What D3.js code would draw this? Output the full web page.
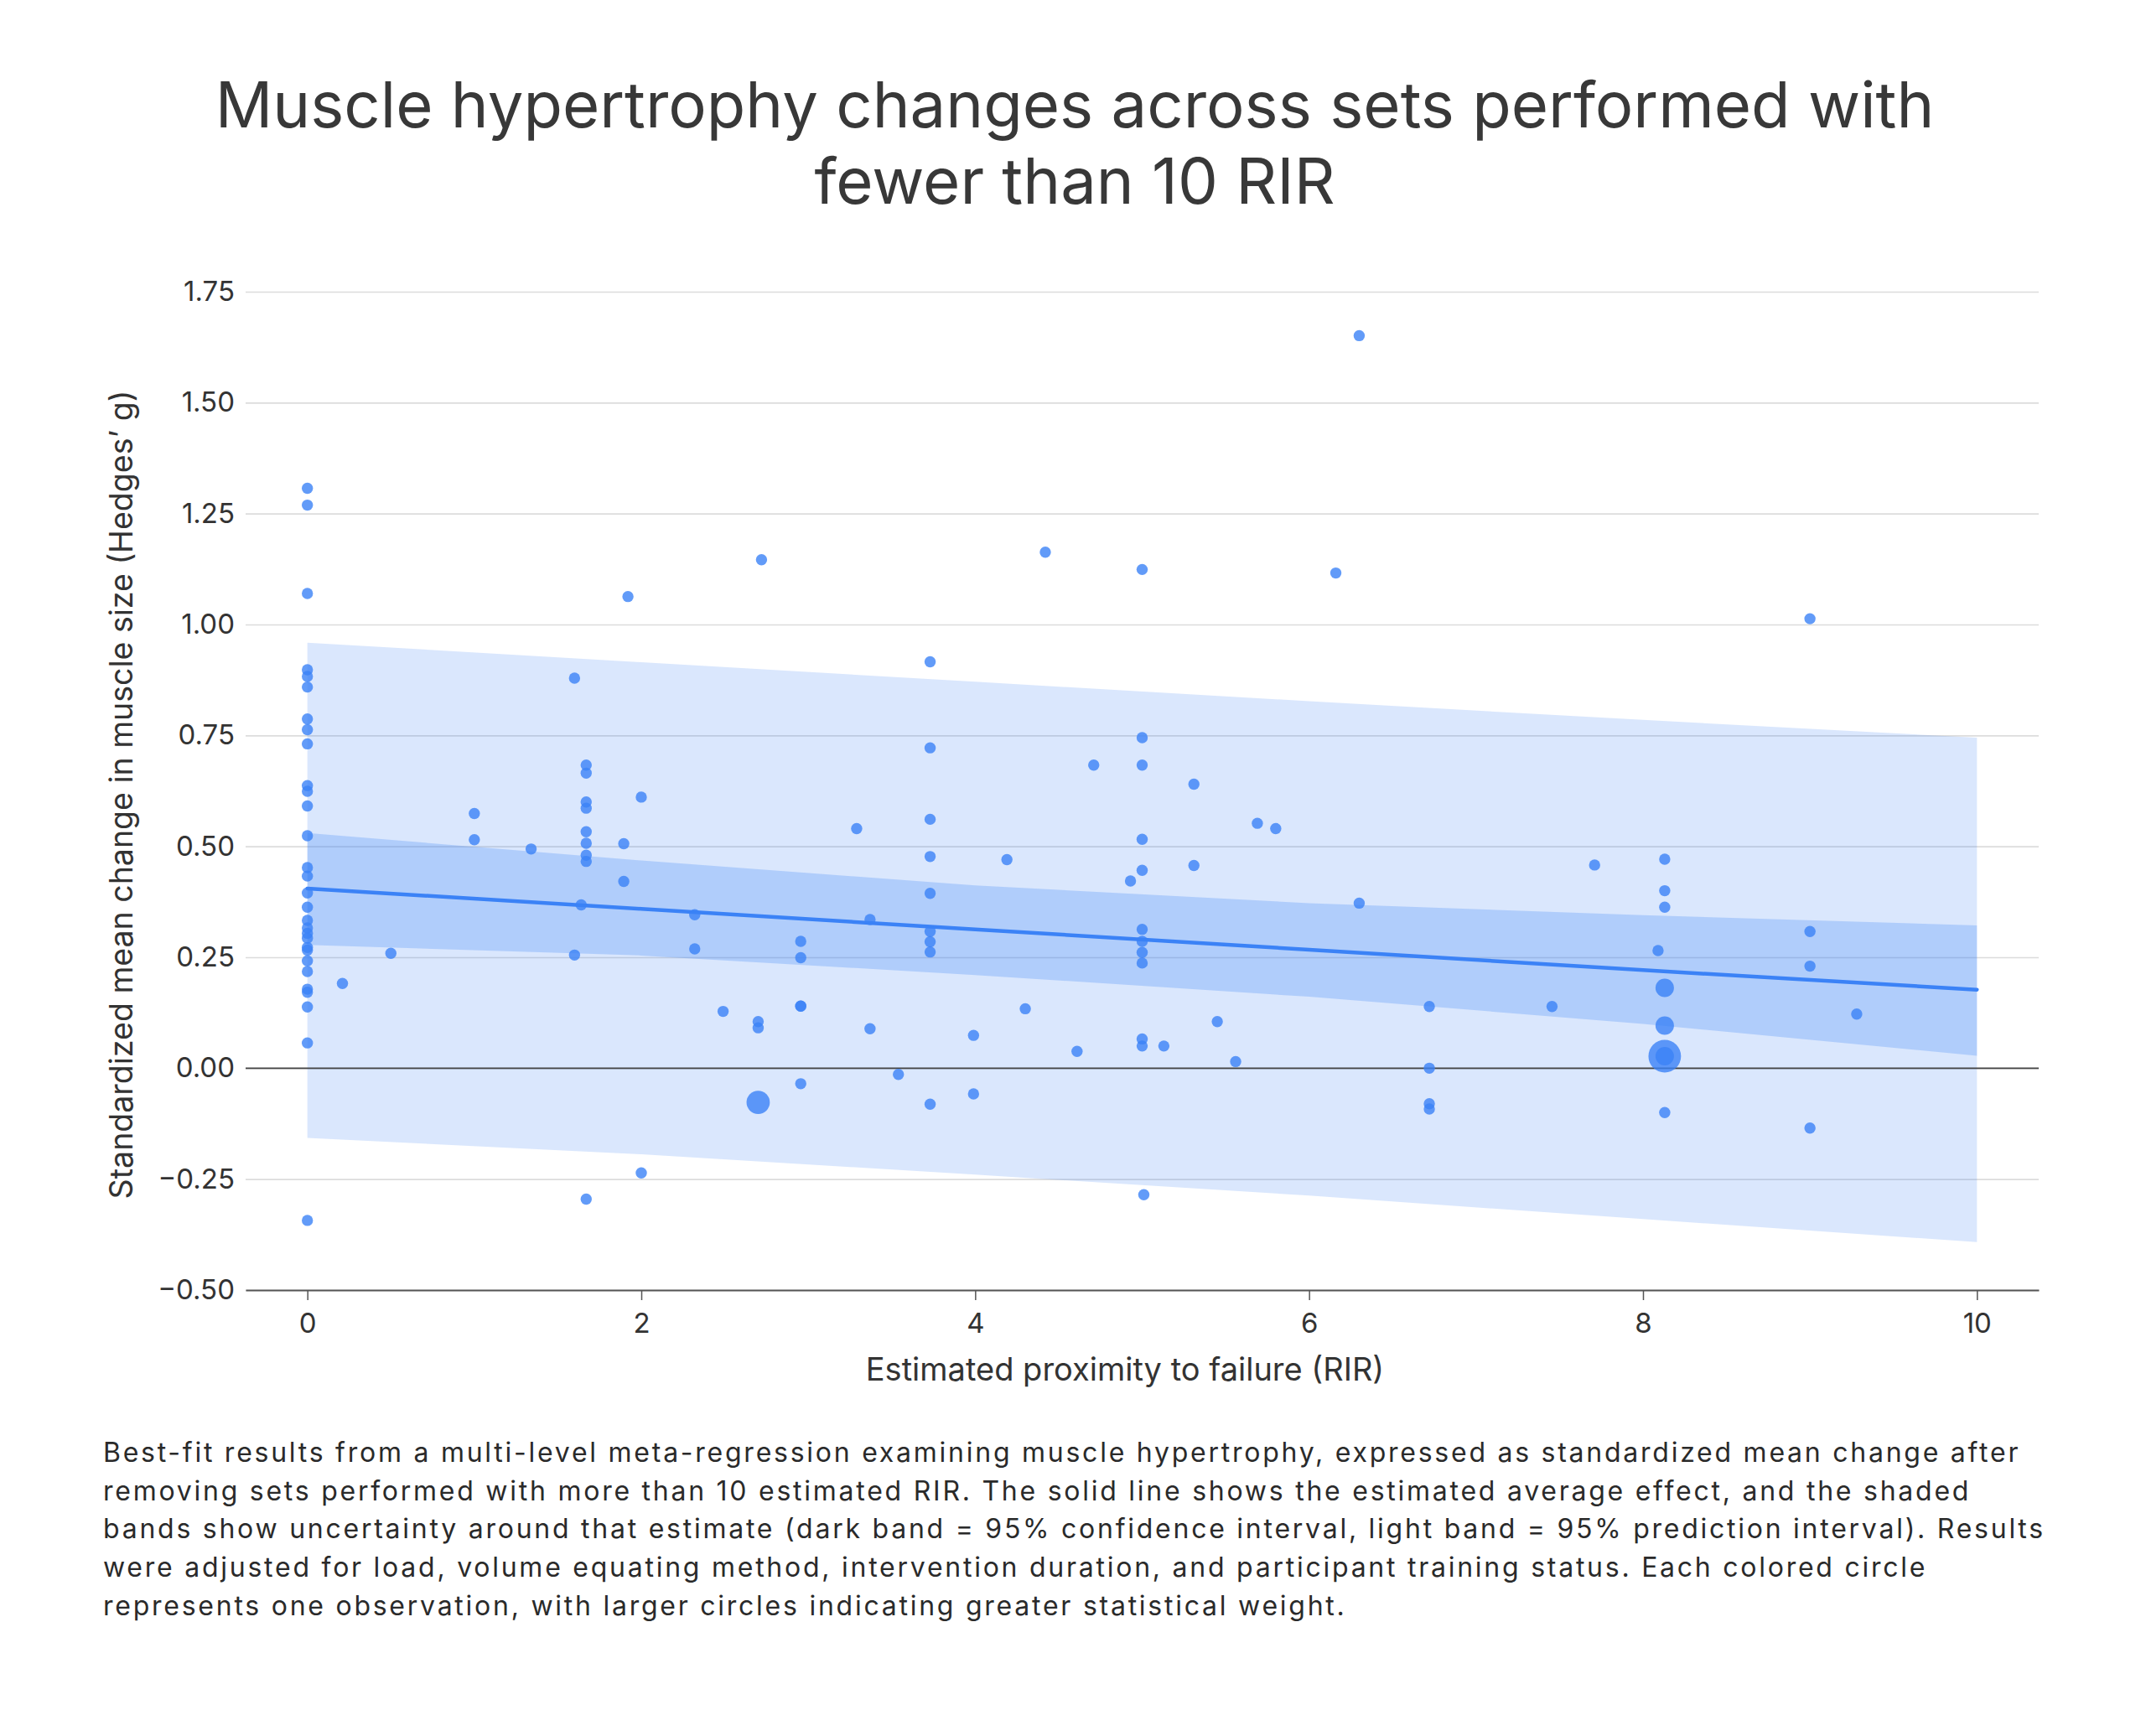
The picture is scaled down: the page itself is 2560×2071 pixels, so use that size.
<!DOCTYPE html>
<html>
<head>
<meta charset="utf-8">
<title>Muscle hypertrophy vs proximity to failure</title>
<script src="https://cdn.jsdelivr.net/npm/d3@7"></script>
<style>
    body { margin: 0; background: #ffffff; }
    #chart text { font-family: Inter, "Noto Sans", sans-serif; }
</style>
</head>
<body>
<svg id="chart"></svg>
<script>

// ---- chart data ----
const titleLines = [
    "Muscle hypertrophy changes across sets performed with",
    "fewer than 10 RIR"
];
const captionLines = [
    "Best-fit results from a multi-level meta-regression examining muscle hypertrophy, expressed as standardized mean change after",
    "removing sets performed with more than 10 estimated RIR. The solid line shows the estimated average effect, and the shaded",
    "bands show uncertainty around that estimate (dark band = 95% confidence interval, light band = 95% prediction interval). Results",
    "were adjusted for load, volume equating method, intervention duration, and participant training status. Each colored circle",
    "represents one observation, with larger circles indicating greater statistical weight."
];
const xLabel = "Estimated proximity to failure (RIR)";
const yLabel = "Standardized mean change in muscle size (Hedges\u2019 g)";

const xTicks = [0, 2, 4, 6, 8, 10];
const yTicks = [-0.5, -0.25, 0, 0.25, 0.5, 0.75, 1, 1.25, 1.5, 1.75];

// regression fit and bands, sampled along RIR
const bandRIR   = [0, 2, 4, 6, 8, 10];
const fitValues = [0.405, 0.359, 0.313, 0.267, 0.221, 0.177];
const ciLower   = [0.278, 0.254, 0.210, 0.161, 0.100, 0.028];
const ciUpper   = [0.530, 0.468, 0.412, 0.372, 0.345, 0.322];
const piLower   = [-0.157, -0.194, -0.240, -0.287, -0.340, -0.392];
const piUpper   = [0.959, 0.915, 0.871, 0.827, 0.785, 0.745];

// observations: [RIR, Hedges' g, relative weight]
const observations = [
    [0, 1.307, 1], [0, 1.269, 1], [0, 1.070, 1], [0, 0.898, 1], [0, 0.883, 1],
    [0, 0.859, 1], [0, 0.787, 1], [0, 0.763, 1], [0, 0.731, 1], [0, 0.637, 1],
    [0, 0.624, 1], [0, 0.591, 1], [0, 0.524, 1], [0, 0.452, 1], [0, 0.433, 1],
    [0, 0.395, 1], [0, 0.363, 1], [0, 0.333, 1], [0, 0.316, 1], [0, 0.304, 1],
    [0, 0.293, 1], [0, 0.272, 1], [0, 0.266, 1], [0, 0.242, 1], [0, 0.218, 1],
    [0, 0.178, 1], [0, 0.171, 1], [0, 0.138, 1], [0, 0.057, 1], [0, -0.343, 1],
    [0.21, 0.191, 1], [0.50, 0.259, 1],
    [1.00, 0.574, 1], [1.00, 0.515, 1], [1.34, 0.494, 1],
    [1.60, 0.879, 1], [1.60, 0.255, 1], [1.64, 0.368, 1],
    [1.67, 0.683, 1], [1.67, 0.665, 1], [1.67, 0.600, 1], [1.67, 0.586, 1],
    [1.67, 0.533, 1], [1.67, 0.507, 1], [1.67, 0.480, 1], [1.67, 0.466, 1],
    [1.67, -0.295, 1],
    [1.895, 0.506, 1], [1.895, 0.421, 1], [1.92, 1.063, 1],
    [2.00, 0.611, 1], [2.00, -0.236, 1],
    [2.32, 0.346, 1], [2.32, 0.269, 1], [2.49, 0.128, 1],
    [2.70, 0.105, 1], [2.70, 0.091, 1], [2.70, -0.077, 4.3], [2.72, 1.146, 1],
    [2.955, 0.286, 1], [2.955, 0.249, 1], [2.955, 0.140, 1], [2.955, 0.140, 1],
    [2.955, -0.035, 1],
    [3.29, 0.540, 1], [3.37, 0.335, 1], [3.37, 0.089, 1], [3.54, -0.014, 1],
    [3.73, 0.916, 1], [3.73, 0.722, 1], [3.73, 0.561, 1], [3.73, 0.477, 1],
    [3.73, 0.394, 1], [3.73, 0.308, 1], [3.73, 0.285, 1], [3.73, 0.262, 1],
    [3.73, -0.081, 1],
    [3.99, 0.074, 1], [3.99, -0.058, 1], [4.19, 0.470, 1], [4.30, 0.134, 1],
    [4.42, 1.163, 1], [4.61, 0.038, 1], [4.71, 0.683, 1], [4.93, 0.422, 1],
    [5.00, 1.124, 1], [5.00, 0.745, 1], [5.00, 0.683, 1], [5.00, 0.516, 1],
    [5.00, 0.446, 1], [5.00, 0.313, 1], [5.00, 0.286, 1], [5.00, 0.261, 1],
    [5.00, 0.237, 1], [5.00, 0.066, 1], [5.00, 0.050, 1], [5.01, -0.285, 1],
    [5.13, 0.050, 1], [5.31, 0.640, 1], [5.31, 0.457, 1], [5.45, 0.105, 1],
    [5.56, 0.015, 1], [5.69, 0.552, 1], [5.80, 0.540, 1], [6.16, 1.116, 1],
    [6.30, 1.651, 1], [6.30, 0.372, 1],
    [6.72, 0.139, 1], [6.72, 0.000, 1], [6.72, -0.080, 1], [6.72, -0.092, 1],
    [7.455, 0.139, 1], [7.71, 0.458, 1], [8.09, 0.265, 1],
    [8.13, 0.471, 1], [8.13, 0.400, 1], [8.13, 0.363, 1], [8.13, 0.181, 2.7],
    [8.13, 0.096, 2.7], [8.13, 0.027, 8.4], [8.13, 0.027, 2.7], [8.13, -0.100, 1],
    [9.00, 1.013, 1], [9.00, 0.308, 1], [9.00, 0.230, 1], [9.00, -0.135, 1],
    [9.28, 0.122, 1]
];


class RegressionScatter {

    constructor(parentElement) {
        this.parentElement = parentElement;
        this.initVis();
    }

    initVis() {
        let vis = this;

        vis.fullWidth = 2560;
        vis.fullHeight = 2071;

        // plot area in page pixels
        vis.plot = { left: 293, right: 2432, top: 348, bottom: 1539 };

        vis.svg = d3.select("#" + vis.parentElement)
            .attr("width", vis.fullWidth)
            .attr("height", vis.fullHeight);

        vis.svg.append("rect")
            .attr("width", vis.fullWidth)
            .attr("height", vis.fullHeight)
            .attr("fill", "#ffffff");

        // Scales
        vis.xScale = d3.scaleLinear()
            .domain([-0.37, 10.37])
            .range([vis.plot.left, vis.plot.right]);

        vis.yScale = d3.scaleLinear()
            .domain([-0.5, 1.75])
            .range([vis.plot.bottom, vis.plot.top]);

        // circle radius grows with sqrt of weight
        vis.rScale = d3.scaleSqrt()
            .domain([0, 1])
            .range([0, 6.7]);

        // Title
        vis.svg.append("g")
            .attr("class", "title")
            .selectAll("text")
            .data(titleLines)
            .join("text")
            .attr("x", 1282)
            .attr("y", (d, i) => 152 + i * 91)
            .attr("text-anchor", "middle")
            .style("font-size", "76px")
            .style("fill", "#383838")
            .text(d => d);

        vis.updateVis();
    }

    updateVis() {
        let vis = this;

        // y axis: gridlines + labels
        let yAxis = d3.axisLeft(vis.yScale)
            .tickValues(yTicks)
            .tickFormat(d3.format(".2f"))
            .tickSize(-(vis.plot.right - vis.plot.left))
            .tickPadding(13);

        let yAxisGroup = vis.svg.append("g")
            .attr("class", "axis y-axis")
            .attr("transform", `translate(${vis.plot.left}, 0)`)
            .call(yAxis);

        yAxisGroup.select(".domain").remove();
        yAxisGroup.selectAll(".tick line")
            .attr("stroke", "#dcdcdc")
            .attr("stroke-width", 1.6);
        yAxisGroup.selectAll(".tick text")
            .style("font-size", "33px")
            .style("fill", "#333");

        // prediction band, then confidence band
        let area = (lo, hi) => d3.area()
            .x((d, i) => vis.xScale(bandRIR[i]))
            .y0((d, i) => vis.yScale(lo[i]))
            .y1((d, i) => vis.yScale(hi[i]));

        vis.svg.append("path")
            .datum(bandRIR)
            .attr("class", "pi-band")
            .attr("fill", "#3b82f6")
            .attr("fill-opacity", 0.19)
            .attr("d", area(piLower, piUpper));

        vis.svg.append("path")
            .datum(bandRIR)
            .attr("class", "ci-band")
            .attr("fill", "#3b82f6")
            .attr("fill-opacity", 0.26)
            .attr("d", area(ciLower, ciUpper));

        // zero reference line
        vis.svg.append("line")
            .attr("class", "zero-line")
            .attr("x1", vis.plot.left)
            .attr("x2", vis.plot.right)
            .attr("y1", vis.yScale(0))
            .attr("y2", vis.yScale(0))
            .attr("stroke", "#444")
            .attr("stroke-width", 1.6);

        // fitted line
        let line = d3.line()
            .x((d, i) => vis.xScale(bandRIR[i]))
            .y(d => vis.yScale(d));

        vis.svg.append("path")
            .datum(fitValues)
            .attr("class", "fit-line")
            .attr("fill", "none")
            .attr("stroke", "#3b82f6")
            .attr("stroke-width", 4.5)
            .attr("stroke-linecap", "round")
            .attr("d", line);

        // x axis
        let xAxis = d3.axisBottom(vis.xScale)
            .tickValues(xTicks)
            .tickFormat(d3.format("d"))
            .tickSize(12)
            .tickSizeOuter(0)
            .tickPadding(16);

        let xAxisGroup = vis.svg.append("g")
            .attr("class", "axis x-axis")
            .attr("transform", `translate(0, ${vis.plot.bottom})`)
            .call(xAxis);

        xAxisGroup.select(".domain")
            .attr("stroke", "#555")
            .attr("stroke-width", 2);
        xAxisGroup.selectAll(".tick line")
            .attr("stroke", "#555")
            .attr("stroke-width", 1.5);
        xAxisGroup.selectAll(".tick text")
            .style("font-size", "33px")
            .style("fill", "#333");

        // observations (big ones drawn first so small ones stay visible)
        let sorted = observations.slice().sort((a, b) => b[2] - a[2]);

        vis.svg.append("g")
            .attr("class", "points")
            .selectAll("circle")
            .data(sorted)
            .join("circle")
            .attr("cx", d => vis.xScale(d[0]))
            .attr("cy", d => vis.yScale(d[1]))
            .attr("r", d => vis.rScale(d[2]))
            .attr("fill", "#3b82f6")
            .attr("fill-opacity", 0.8);

        // axis labels
        vis.svg.append("text")
            .attr("class", "axis-label")
            .attr("x", 1342)
            .attr("y", 1647)
            .attr("text-anchor", "middle")
            .style("font-size", "38px")
            .style("fill", "#333")
            .text(xLabel);

        vis.svg.append("text")
            .attr("class", "axis-label")
            .attr("transform", "translate(158, 948) rotate(-90)")
            .attr("text-anchor", "middle")
            .style("font-size", "37.5px")
            .style("fill", "#333")
            .text(yLabel);

        // caption under the chart
        vis.svg.append("g")
            .attr("class", "caption")
            .selectAll("text")
            .data(captionLines)
            .join("text")
            .attr("x", 123)
            .attr("y", (d, i) => 1744 + i * 45.7)
            .style("font-size", "32px")
            .style("letter-spacing", "2.75px")
            .style("fill", "#2a2a2a")
            .text(d => d);
    }
}

new RegressionScatter("chart");

</script>
</body>
</html>
